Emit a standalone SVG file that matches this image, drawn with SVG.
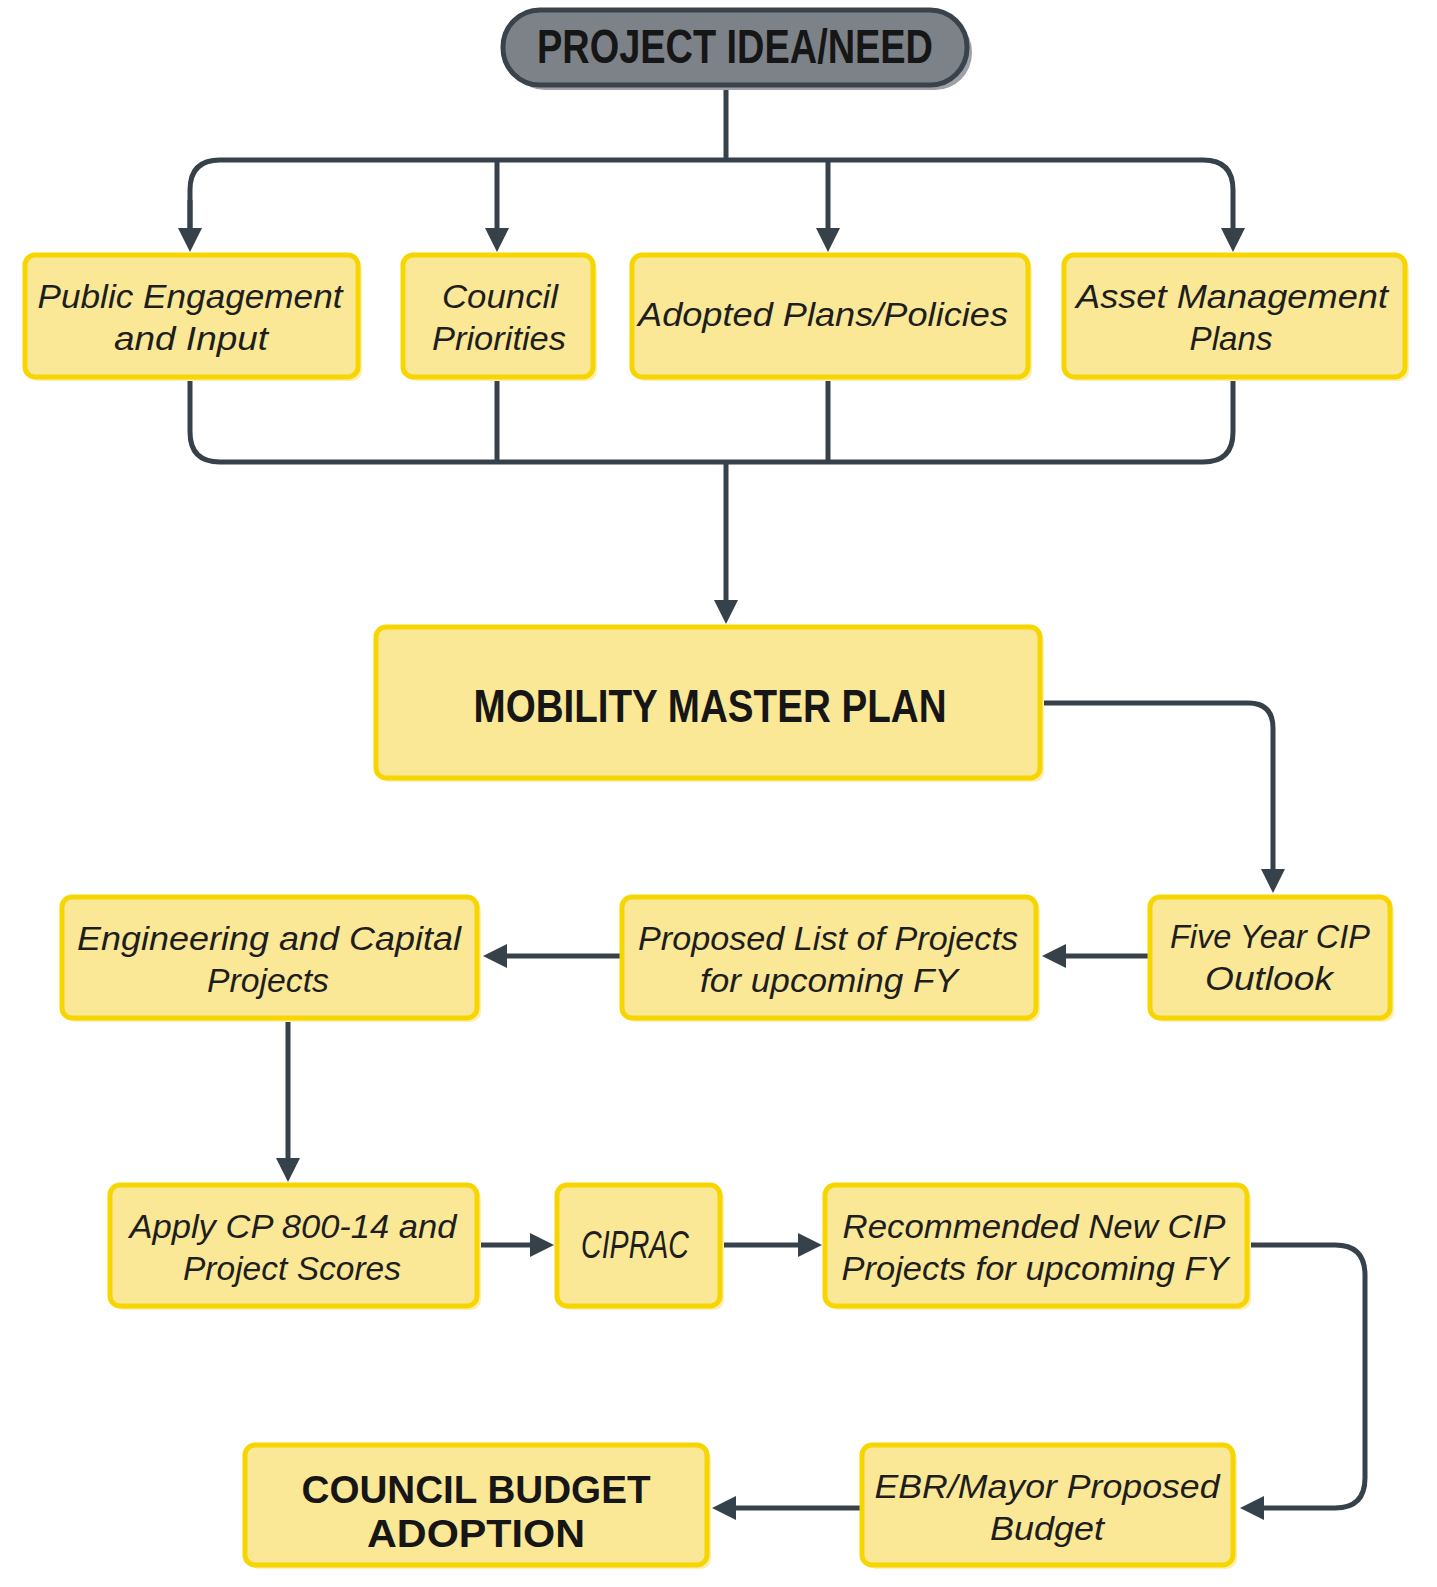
<svg xmlns="http://www.w3.org/2000/svg" width="1437" height="1587" viewBox="0 0 1437 1587">
<style>
.box{fill:#FAE896;stroke:#F7D500;stroke-width:5}
.sh{fill:#FBEFB3}
.lbl{font-family:"Liberation Sans",Arial,sans-serif;font-style:italic;font-size:33px;fill:#1E1E1E;text-anchor:middle}
.big{font-size:38px}
.hdr{font-family:"Liberation Sans",Arial,sans-serif;font-weight:bold;fill:#161616;text-anchor:middle}
.ln{fill:none;stroke:#36414A;stroke-width:5}
</style>
<defs>
<marker id="ah" viewBox="0 0 24 24" markerWidth="24" markerHeight="24" refX="2" refY="12" orient="auto" markerUnits="userSpaceOnUse">
<path d="M0,0 L24,12 L0,24 z" fill="#36414A"/>
</marker>
</defs>
<rect width="1437" height="1587" fill="#FFFFFF"/>

<g id="connectors">
<path class="ln" d="M726,85 V160"/>
<path class="ln" d="M190,230 V190 Q190,160 220,160 H1203 Q1233,160 1233,190 V230" marker-end="url(#ah)"/>
<path class="ln" d="M190,200 V230" marker-end="url(#ah)"/>
<path class="ln" d="M497,160 V230" marker-end="url(#ah)"/>
<path class="ln" d="M828,160 V230" marker-end="url(#ah)"/>
<path class="ln" d="M190,377 V432 Q190,462 220,462 H1203 Q1233,462 1233,432 V377"/>
<path class="ln" d="M497,377 V462"/>
<path class="ln" d="M828,377 V462"/>
<path class="ln" d="M726,462 V602" marker-end="url(#ah)"/>
<path class="ln" d="M1042,703 H1248 Q1273,703 1273,728 V871" marker-end="url(#ah)"/>
<path class="ln" d="M1150,956 H1064" marker-end="url(#ah)"/>
<path class="ln" d="M622,956 H505" marker-end="url(#ah)"/>
<path class="ln" d="M288,1018 V1160" marker-end="url(#ah)"/>
<path class="ln" d="M477,1245 H532" marker-end="url(#ah)"/>
<path class="ln" d="M720,1245 H800" marker-end="url(#ah)"/>
<path class="ln" d="M1247,1245 H1335 Q1365,1245 1365,1275 V1478 Q1365,1508 1335,1508 H1262" marker-end="url(#ah)"/>
<path class="ln" d="M862,1508 H734" marker-end="url(#ah)"/>
</g>

<g id="n-project-idea">
<rect x="508" y="15" width="464" height="75" rx="37" fill="#9EA2A7"/>
<rect x="503" y="10" width="464" height="75" rx="37" fill="#7D8289" stroke="#3A434B" stroke-width="5"/>
<text class="hdr" x="735" y="63" font-size="48" textLength="396" lengthAdjust="spacingAndGlyphs">PROJECT IDEA/NEED</text>
</g>

<g id="n-public">
<rect class="sh" x="29" y="259" width="333" height="122" rx="10"/>
<rect class="box" x="25" y="255" width="333" height="122" rx="10"/>
<text class="lbl" x="190" y="308" textLength="305" lengthAdjust="spacingAndGlyphs">Public Engagement</text>
<text class="lbl" x="191" y="350" textLength="154" lengthAdjust="spacingAndGlyphs">and Input</text>
</g>

<g id="n-council-priorities">
<rect class="sh" x="407" y="259" width="190" height="122" rx="10"/>
<rect class="box" x="403" y="255" width="190" height="122" rx="10"/>
<text class="lbl" x="500" y="308" textLength="116" lengthAdjust="spacingAndGlyphs">Council</text>
<text class="lbl" x="499" y="350" textLength="134" lengthAdjust="spacingAndGlyphs">Priorities</text>
</g>

<g id="n-adopted">
<rect class="sh" x="636" y="259" width="396" height="122" rx="10"/>
<rect class="box" x="632" y="255" width="396" height="122" rx="10"/>
<text class="lbl" x="823" y="326" textLength="370" lengthAdjust="spacingAndGlyphs">Adopted Plans/Policies</text>
</g>

<g id="n-asset">
<rect class="sh" x="1068" y="259" width="341" height="122" rx="10"/>
<rect class="box" x="1064" y="255" width="341" height="122" rx="10"/>
<text class="lbl" x="1232" y="308" textLength="312" lengthAdjust="spacingAndGlyphs">Asset Management</text>
<text class="lbl" x="1231" y="350" textLength="83" lengthAdjust="spacingAndGlyphs">Plans</text>
</g>

<g id="n-mobility">
<rect class="sh" x="380" y="631" width="664" height="151" rx="10"/>
<rect class="box" x="376" y="627" width="664" height="151" rx="10"/>
<text class="hdr" x="710" y="722" font-size="46" textLength="473" lengthAdjust="spacingAndGlyphs">MOBILITY MASTER PLAN</text>
</g>

<g id="n-engineering">
<rect class="sh" x="66" y="901" width="415" height="121" rx="10"/>
<rect class="box" x="62" y="897" width="415" height="121" rx="10"/>
<text class="lbl" x="269" y="950" textLength="384" lengthAdjust="spacingAndGlyphs">Engineering and Capital</text>
<text class="lbl" x="268" y="992" textLength="122" lengthAdjust="spacingAndGlyphs">Projects</text>
</g>

<g id="n-proposed">
<rect class="sh" x="626" y="901" width="414" height="121" rx="10"/>
<rect class="box" x="622" y="897" width="414" height="121" rx="10"/>
<text class="lbl" x="828" y="950" textLength="380" lengthAdjust="spacingAndGlyphs">Proposed List of Projects</text>
<text class="lbl" x="829" y="992" textLength="258" lengthAdjust="spacingAndGlyphs">for upcoming FY</text>
</g>

<g id="n-five-year">
<rect class="sh" x="1154" y="901" width="240" height="121" rx="10"/>
<rect class="box" x="1150" y="897" width="240" height="121" rx="10"/>
<text class="lbl" x="1270" y="948" textLength="200" lengthAdjust="spacingAndGlyphs">Five Year CIP</text>
<text class="lbl" x="1269" y="990" textLength="128" lengthAdjust="spacingAndGlyphs">Outlook</text>
</g>

<g id="n-apply">
<rect class="sh" x="114" y="1189" width="367" height="121" rx="10"/>
<rect class="box" x="110" y="1185" width="367" height="121" rx="10"/>
<text class="lbl" x="293" y="1238" textLength="327" lengthAdjust="spacingAndGlyphs">Apply CP 800-14 and</text>
<text class="lbl" x="292" y="1280" textLength="218" lengthAdjust="spacingAndGlyphs">Project Scores</text>
</g>

<g id="n-ciprac">
<rect class="sh" x="561" y="1189" width="163" height="121" rx="10"/>
<rect class="box" x="557" y="1185" width="163" height="121" rx="10"/>
<text class="lbl big" x="635" y="1258" textLength="108" lengthAdjust="spacingAndGlyphs">CIPRAC</text>
</g>

<g id="n-recommended">
<rect class="sh" x="829" y="1189" width="422" height="121" rx="10"/>
<rect class="box" x="825" y="1185" width="422" height="121" rx="10"/>
<text class="lbl" x="1034" y="1238" textLength="383" lengthAdjust="spacingAndGlyphs">Recommended New CIP</text>
<text class="lbl" x="1035" y="1280" textLength="387" lengthAdjust="spacingAndGlyphs">Projects for upcoming FY</text>
</g>

<g id="n-council-budget">
<rect class="sh" x="249" y="1449" width="462" height="120" rx="10"/>
<rect class="box" x="245" y="1445" width="462" height="120" rx="10"/>
<text class="hdr" x="476" y="1503" font-size="38" textLength="349" lengthAdjust="spacingAndGlyphs">COUNCIL BUDGET</text>
<text class="hdr" x="476" y="1547" font-size="38" textLength="218" lengthAdjust="spacingAndGlyphs">ADOPTION</text>
</g>

<g id="n-ebr">
<rect class="sh" x="866" y="1449" width="371" height="120" rx="10"/>
<rect class="box" x="862" y="1445" width="371" height="120" rx="10"/>
<text class="lbl" x="1047" y="1498" textLength="345" lengthAdjust="spacingAndGlyphs">EBR/Mayor Proposed</text>
<text class="lbl" x="1047" y="1540" textLength="114" lengthAdjust="spacingAndGlyphs">Budget</text>
</g>
</svg>
